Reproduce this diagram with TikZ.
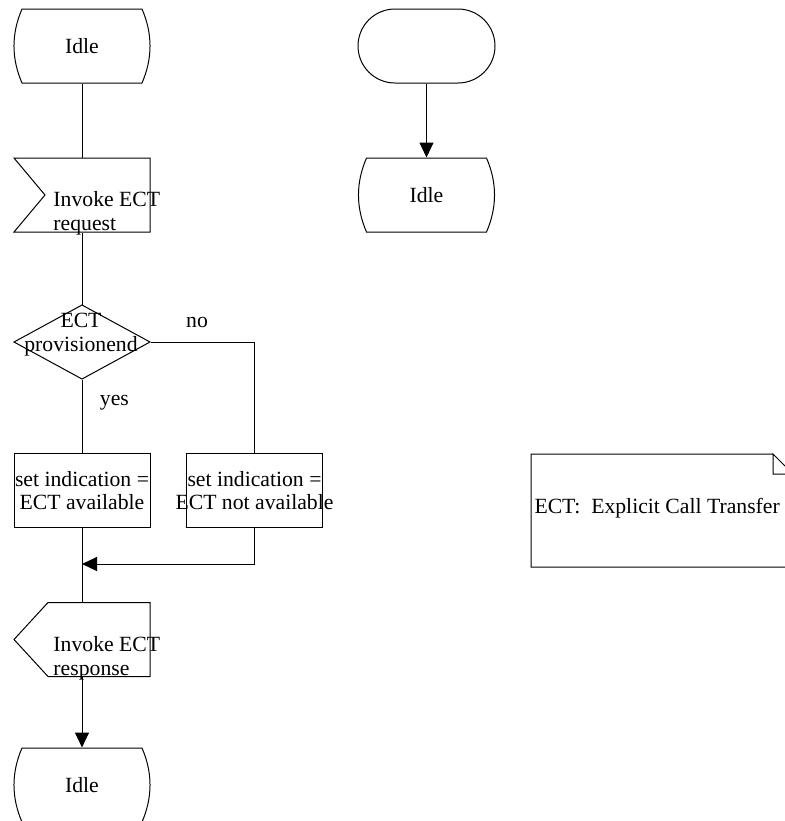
\documentclass[tikz,border=0pt]{standalone}
\usepackage{fontspec}
\setmainfont{Liberation Serif}
\usetikzlibrary{arrows.meta}

\newcommand{\sdlfont}{\fontsize{10.85}{11.75}\selectfont}

\tikzset{
  sdl/.style={minimum width=68pt, minimum height=37pt, inner sep=0pt, align=center},
  sdltext/.style={inner sep=0pt, align=left},
  % state symbol: straight top and bottom, bulging sides
  state/.style={sdl, append after command={\pgfextra{\draw[shift={(\tikzlastnode.center)}]
      (-60,-37) -- (60,-37) .. controls (70.7,-12.3) and (70.7,12.3) .. (60,37)
      -- (-60,37) .. controls (-70.7,12.3) and (-70.7,-12.3) .. cycle;}}},
  start/.style={sdl, append after command={\pgfextra{\draw[shift={(\tikzlastnode.center)},
      rounded corners=18.5pt] (-68.5,-37) rectangle (68.5,37);}}},
  input/.style={sdl, append after command={\pgfextra{\draw[shift={(\tikzlastnode.center)}]
      (-68,-37) -- (68,-37) -- (68,37) -- (-68,37) -- (-37,0) -- cycle;}}},
  output/.style={sdl, append after command={\pgfextra{\draw[shift={(\tikzlastnode.center)}]
      (-34,-37) -- (68,-37) -- (68,37) -- (-34,37) -- (-68,0) -- cycle;}}},
  decision/.style={sdl, append after command={\pgfextra{\draw[shift={(\tikzlastnode.center)}]
      (0,-37) -- (68,0) -- (0,37) -- (-68,0) -- cycle;}}},
  task/.style={sdl, append after command={\pgfextra{\draw[shift={(\tikzlastnode.center)}]
      (-68,-37) rectangle (68,37);}}},
  % comment symbol with folded corner
  note/.style={inner sep=0pt, anchor=base west, append after command={\pgfextra{\draw[shift={(\tikzlastnode.base west)}]
      (239,-59) -- (-3,-59) -- (-3,54) -- (259,54) -- (259,-39) -- (239,-59)
      -- (239,-39) -- (259,-39);}}}
}

\begin{document}
\begin{tikzpicture}[x=0.5pt, y=-0.5pt, line width=0.5pt, font=\sdlfont,
    >={Triangle[length=7.5pt, width=7pt]}]
    % --- Page ---
    \useasboundingbox (0,0) rectangle (784,821);

    % --- Main flow ---
    \node (idleA) [state] at (82,46) {Idle};
    \node (req) [input] at (82,195) {};
    \node (reqtext) [sdltext, anchor=base west] at (53,230) {Invoke~ECT\\request};
    \node (provis) [decision] at (82,342) {};
    \node (provistext) [inner sep=0pt, align=center, anchor=base] at (81,351) {ECT\\provisionend};
    \node (setyes) [task] at (82,490.5) {set indication =\\ECT available};
    \node (setno) [task] at (254.5,490.5) {set indication =\\ECT not available};
    \coordinate (join) at (82,564);
    \node (resp) [output] at (82,639.5) {};
    \node (resptext) [sdltext, anchor=base west] at (53,675) {Invoke~ECT\\response};
    \node (idleB) [state] at (82,785) {Idle};

    % --- Connectors ---
    \draw (idleA.south) -- (req.north);
    \draw (req.south) -- (provis.north);
    \draw (provis.south) -- (setyes.north) node (yes) [pos=0.32, right=5.4pt] {yes};
    \draw (provis.east) -| (setno.north) node (no) [pos=0.224, above=3.4pt] {no};
    \draw (setyes.south) -- (resp.north);
    \draw[->] (setno.south) |- (join);
    \draw[->] (resp.south) -- (idleB.north);

    % --- Second flow ---
    \node (startB) [start] at (426.5,46) {};
    \node (idleC) [state] at (426.5,195) {Idle};
    \draw[->] (startB.south) -- (idleC.north);

    % --- Comment ---
    \node (legend) [note] at (534,513) {ECT:\ \ Explicit Call Transfer};
\end{tikzpicture}
\end{document}
